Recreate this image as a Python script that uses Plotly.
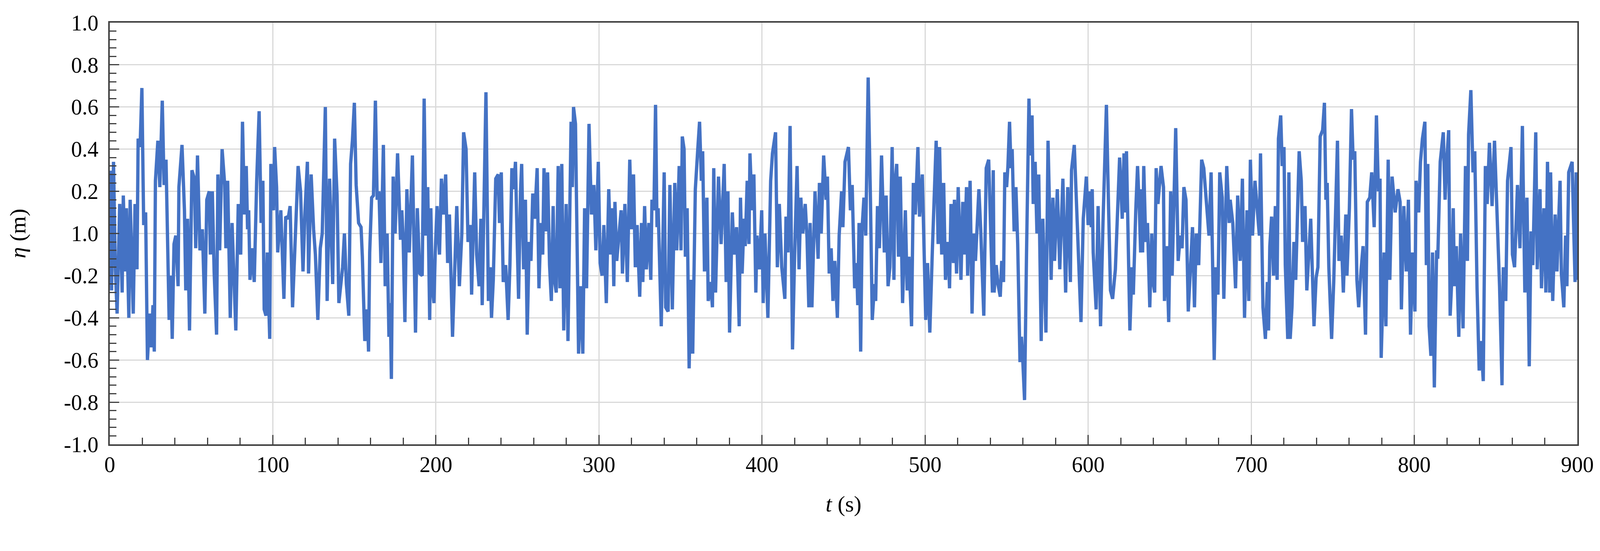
import plotly.graph_objects as go

# wave record (s, m)
t = [
    0.0, 0.4, 1.1, 2.3, 3.4, 4.5, 6.1, 7.6, 8.3, 9.5, 10.2, 11.7, 12.5, 14.4, 15.5, 16.7,
    17.4, 18.6, 19.7, 20.8, 22.0, 23.1, 24.6, 25.4, 26.5, 27.3, 28.0, 29.5, 30.7, 32.2,
    33.3, 34.5, 36.4, 37.5, 38.3, 39.4, 40.5, 41.9, 42.4, 44.3, 45.8, 46.6, 47.7, 48.9,
    50.4, 51.9, 52.7, 53.8, 55.3, 56.8, 58.3, 59.5, 61.0, 61.7, 62.9, 64.0, 65.5, 66.3,
    67.4, 68.9, 70.5, 71.2, 72.3, 73.9, 75.0, 76.1, 77.3, 78.8, 80.3, 81.4, 82.6, 83.7,
    84.5, 85.2, 86.0,
    87.1, 88.6, 90.1, 91.6, 92.8, 93.9, 94.7, 95.8, 96.6, 98.1, 98.8, 100.4, 101.1, 102.3,
    103.0, 104.9, 106.8, 107.9, 109.4, 110.6, 112.1, 113.2, 115.5, 117.0, 118.5, 119.7,
    121.2, 121.9, 123.5, 125.0, 126.1, 127.6, 129.1, 130.3, 132.2, 133.3, 134.8, 136.7,
    137.9, 139.4, 140.5, 142.8, 143.9, 145.1, 146.6, 147.7, 148.8, 150.0, 151.1, 152.6,
    154.1, 154.9, 156.4, 157.9, 158.7, 159.4, 160.6, 161.7, 162.9, 164.0, 165.1, 166.3,
    167.8, 168.9, 170.1, 171.2, 172.0, 172.7, 173.8, 175.0, 176.5,
    178.3, 179.1, 179.9, 181.0, 182.2, 183.7, 185.6, 186.3, 187.5, 188.6, 190.1, 191.6,
    192.8, 193.9, 195.0, 196.2, 196.9, 197.7, 198.8, 199.6, 200.7, 202.2, 203.4, 204.5,
    206.0, 207.2, 208.3, 210.2, 211.7, 212.8, 214.4, 215.9, 217.0, 218.5, 219.7, 221.2,
    221.9, 223.8, 225.0, 226.5, 227.6, 228.4, 230.7, 232.2, 233.3, 234.1, 235.2, 236.7,
    238.2, 239.0, 240.1, 241.3, 242.8, 244.3, 245.4, 246.6, 247.7, 248.8, 249.6, 250.7,
    251.9, 252.6, 253.8, 254.9, 256.0, 257.2, 258.3, 259.4, 260.6, 262.1, 263.2, 264.4,
    265.5, 266.3, 267.4, 268.5,
    269.7, 270.8, 271.9, 272.7, 273.8, 275.0, 276.1, 277.2, 278.4, 279.9, 281.0, 282.2,
    282.9, 283.7, 284.4, 285.6, 287.5, 288.6, 290.1, 291.2, 292.4, 293.9, 295.4, 296.9,
    298.1, 299.6, 300.7, 301.9, 303.0, 304.5, 306.0, 307.2, 308.3, 309.1, 309.8, 310.9,
    312.1, 313.6, 314.4, 315.9, 317.4, 318.9, 320.0, 321.2, 322.3, 323.4, 325.0, 326.1,
    326.9, 328.0, 329.1, 330.6, 331.8, 332.5, 333.7, 334.7, 335.6, 336.3, 338.2, 340.0,
    340.9, 342.4, 343.5, 345.0, 346.5, 347.7, 349.2, 350.3, 351.1, 352.2, 353.0, 354.1,
    355.3, 356.4, 357.5, 359.1,
    360.6, 361.7, 362.8, 363.6, 364.7, 366.2, 367.0, 368.5, 369.6, 370.4, 371.5, 373.3,
    374.9, 376.8, 378.0, 379.1, 380.1, 381.8, 382.9, 384.4, 386.0, 386.8, 387.8, 389.0,
    389.7, 390.9, 392.0, 392.6, 393.9, 395.0, 396.2, 396.9, 398.4, 399.8, 400.7, 401.8,
    403.6, 405.3, 406.4, 408.3, 409.4, 410.6, 412.1, 414.0, 414.7, 415.9, 417.2, 418.7,
    420.0, 421.5, 422.7, 423.8, 425.0, 426.5, 427.6, 428.7, 429.5, 430.6, 432.5, 434.4,
    435.2, 436.3, 437.8, 439.3, 440.1, 441.2, 442.4, 443.5, 444.6, 446.2, 447.3, 448.8,
    449.6, 450.9,
    453.0, 454.2, 455.3, 456.8, 458.0, 458.7, 459.5, 460.5, 461.4, 462.5, 463.6, 465.1,
    466.5, 467.6, 469.0, 469.7, 470.8, 472.0, 473.3, 475.0, 476.1, 477.3, 478.4, 479.8,
    480.9, 481.4, 482.6, 483.7, 484.8, 486.2, 487.9, 489.0, 490.1, 491.7, 492.8, 494.0,
    495.6, 496.6, 498.3, 499.2, 500.4, 501.5, 502.9, 504.5, 506.8, 508.0, 508.9, 510.2,
    511.4, 512.5, 514.0, 515.0, 515.9, 517.4, 518.0, 519.3, 520.3, 522.0, 523.1, 524.2,
    525.4, 526.1, 527.6, 528.8, 529.9, 530.9, 533.0, 534.1, 536.0, 537.5, 539.0, 540.1,
    541.3,
    541.8, 542.3, 543.6, 544.7, 546.1, 547.0, 548.1, 548.9, 550.0, 550.8, 551.8, 552.7,
    553.4, 554.6, 555.7, 556.8, 558.2, 559.1, 559.9, 561.0, 562.2, 563.7, 564.4, 565.6,
    566.3, 567.5, 568.6, 569.7, 571.2, 572.2, 574.1, 575.4, 577.3, 578.4, 579.4, 581.1,
    582.6, 584.5, 586.2, 587.5, 589.1, 589.8, 591.5, 593.2, 594.4, 595.6, 597.0, 598.9,
    600.0, 601.2, 601.9, 602.5, 603.1, 604.9, 606.1, 607.6, 609.1, 611.2, 612.5, 613.7,
    615.0, 616.7, 619.3, 620.9, 622.0, 622.8, 623.5, 624.3, 625.6, 626.9, 627.7, 629.2,
    630.3, 631.5, 632.2,
    632.9, 633.4, 634.1, 635.3, 636.4, 637.8, 639.0, 639.8, 640.8, 641.7, 642.8, 644.7,
    646.2, 646.8, 648.1, 649.4, 650.6, 651.5, 653.7, 655.2, 656.5, 657.6, 658.7, 660.0,
    661.4, 662.5, 664.0, 665.2, 666.3, 667.8, 669.6, 670.9, 672.4, 674.1, 675.4, 677.3,
    678.4, 679.6, 680.7, 682.2, 683.2, 685.0, 686.5, 687.1, 688.7, 690.4, 691.7, 693.2,
    694.6, 695.9, 697.4, 698.5, 699.5, 700.8, 702.3, 705.0, 705.7, 707.2, 708.7, 709.9,
    710.6, 711.4, 712.5, 713.7, 714.8, 715.9, 716.7, 718.1, 719.0, 720.1, 720.9, 722.4,
    723.1,
    723.9, 725.0, 726.2, 727.3, 728.0, 729.4, 730.7, 731.5, 733.0, 734.1, 736.5, 738.5,
    739.8, 740.9, 742.3, 743.8, 744.9, 745.8, 746.6, 747.6, 749.3, 750.6, 752.9, 753.8,
    755.2, 756.5, 758.0, 758.7, 760.2, 761.5, 762.5, 763.5, 764.8, 765.9, 767.4, 768.6,
    770.1, 771.2, 772.7, 773.9, 775.4, 776.8, 778.0, 779.0, 779.7, 781.5, 782.6, 784.0,
    785.0, 786.4, 788.3, 790.0, 791.3, 792.1, 793.6, 795.1, 796.4, 797.7, 798.9, 800.4,
    801.1, 802.7, 803.8, 805.0, 806.5, 807.4, 808.3, 809.1, 810.2, 811.2, 812.3, 813.7,
    814.4,
    815.2, 815.9, 817.8, 818.9, 819.7, 821.1, 822.0, 823.1, 823.9, 824.6, 825.8, 827.3,
    828.4, 829.9, 831.4, 832.6, 833.3, 834.7, 836.0, 837.1, 838.5, 839.8, 840.9, 842.3,
    843.6, 844.7, 846.1, 847.7, 849.2, 850.8, 852.3, 853.8, 854.6, 856.1, 857.2, 859.3,
    860.2, 861.5, 863.3, 864.8, 866.3, 867.8, 869.1, 870.5, 871.6, 872.7, 874.5, 875.4,
    877.1, 878.0, 879.5, 880.7, 881.7, 883.0, 883.6, 884.9, 886.4, 887.5, 888.5, 889.4,
    890.2, 891.7, 892.8, 893.6, 894.7, 896.8, 897.7, 898.6, 899.3, 900.0,
]

eta = [
    0.29, 0.29, -0.27, 0.34, -0.16, -0.38, 0.14, -0.28, 0.18, -0.18, 0.12, -0.40, 0.16, -0.38, 0.14, -0.17,
    0.45, 0.41, 0.69, 0.04, 0.10, -0.60, -0.38, -0.54, -0.34, -0.56, 0.25, 0.44, 0.22, 0.63,
    0.23, 0.35, -0.41, -0.20, -0.50, -0.05, -0.01, -0.25, 0.22, 0.42, 0.11, -0.27, 0.07, -0.46,
    0.30, 0.26, -0.07, 0.37, -0.08, 0.02, -0.38, 0.16, 0.20, -0.10, 0.20, -0.18, -0.48, 0.28,
    -0.08, 0.40, 0.23, -0.07, 0.25, -0.40, 0.05, -0.26, -0.46, 0.14, -0.10, 0.53, 0.09, 0.32,
    0.02, 0.11, -0.22,
    -0.07, -0.23, 0.25, 0.58, 0.05, 0.25, -0.36, -0.39, -0.09, -0.50, 0.33, 0.11, 0.41, 0.22,
    -0.09, 0.11, -0.31, 0.08, 0.07, 0.13, -0.35, -0.15, 0.32, 0.20, -0.18, 0.10,
    0.34, -0.19, 0.28, 0.02, -0.10, -0.41, -0.07, 0.00, 0.60, -0.32, 0.26, -0.24,
    0.45, 0.18, -0.33, -0.16, 0.00, -0.24, -0.39, 0.33, 0.44, 0.62, 0.23, 0.05,
    0.03, -0.11, -0.51, -0.36, -0.56, -0.09, 0.17, 0.18, 0.63, 0.16, 0.20, -0.14,
    0.42, -0.25, 0.00, -0.49, -0.33, -0.69, 0.27, 0.00, 0.38,
    -0.03, 0.11, -0.02, -0.42, 0.21, -0.09, 0.37, 0.02, -0.47, 0.12, -0.19, -0.20,
    0.64, -0.01, 0.22, -0.41, 0.12, -0.25, -0.33, -0.09, 0.13, -0.10, 0.26, 0.09,
    0.28, -0.14, 0.09, -0.49, -0.19, 0.13, -0.25, 0.00, 0.48, 0.40, -0.04, 0.04,
    -0.29, 0.29, -0.10, -0.25, 0.07, -0.34, 0.67, -0.32, -0.16, -0.40, -0.22, 0.26,
    0.28, 0.05, 0.29, -0.23, -0.15, -0.41, -0.15, 0.31, 0.21, 0.34, 0.05, -0.31,
    0.20, 0.33, -0.17, 0.16, -0.48, -0.04, -0.13, 0.19, 0.07, 0.31, -0.26, 0.05,
    -0.10, 0.31, 0.01, 0.29,
    -0.15, -0.32, 0.13, -0.22, -0.28, 0.32, -0.26, 0.33, -0.46, 0.14, -0.51, 0.22,
    0.53, 0.22, 0.60, 0.52, -0.57, -0.25, -0.57, 0.12, -0.26, 0.52, 0.09, 0.23,
    -0.08, 0.34, -0.14, -0.20, 0.04, -0.33, 0.21, -0.10, 0.12, -0.25, 0.15, -0.13,
    -0.01, 0.11, -0.19, 0.14, -0.23, 0.35, 0.02, 0.28, -0.16, 0.04, -0.30, 0.05,
    -0.23, 0.13, -0.17, 0.05, -0.22, 0.16, 0.11, 0.61, 0.03, 0.12, -0.44, 0.29,
    -0.35, -0.37, 0.23, -0.36, 0.24, -0.08, 0.32, -0.08, 0.46, 0.40, -0.11, 0.12,
    -0.64, -0.22, -0.57, 0.21,
    0.40, 0.53, 0.25, 0.39, -0.18, 0.17, -0.32, -0.23, -0.35, 0.31, -0.28, 0.27,
    -0.05, 0.33, -0.23, 0.20, -0.47, 0.10, -0.10, 0.03, -0.44, 0.17, -0.19, 0.07,
    -0.06, 0.25, -0.05, 0.38, 0.11, 0.28, -0.28, -0.01, -0.17, 0.11, -0.33, 0.00,
    -0.40, 0.25, 0.38, 0.48, -0.16, 0.14, -0.16, -0.31, 0.08, -0.09, 0.51, -0.55,
    -0.10, 0.32, -0.17, 0.17, 0.00, 0.14, -0.02, -0.35, 0.05, -0.35, 0.20, -0.12,
    0.24, 0.00, 0.37, 0.16, 0.27, -0.19, -0.07, -0.32, -0.13, -0.40, -0.01, 0.20,
    0.03, 0.34,
    0.41, 0.11, 0.23, -0.26, -0.14, -0.34, 0.05, -0.56, 0.03, 0.17, -0.01, 0.74,
    0.16, -0.41, -0.24, -0.32, 0.13, -0.07, 0.37, -0.09, 0.18, -0.25, -0.16, 0.41,
    -0.22, 0.22, 0.33, -0.11, 0.27, -0.33, 0.11, -0.27, -0.11, -0.44, 0.24, 0.09,
    0.41, 0.08, 0.28, -0.06, -0.41, -0.14, -0.47, -0.07, 0.44, -0.05, 0.41, -0.10,
    0.24, -0.22, -0.04, -0.26, 0.14, -0.14, 0.16, -0.19, 0.22, -0.22, 0.15, -0.10,
    0.22, -0.20, 0.25, -0.38, 0.00, -0.13, 0.21, 0.02, -0.39, 0.31, 0.35, 0.05,
    -0.28,
    0.30, -0.28, -0.15, -0.24, -0.30, -0.13, -0.23, 0.29, 0.22, 0.32, 0.53, 0.31,
    0.40, 0.01, 0.22, -0.05, -0.61, -0.49, -0.60, -0.79, -0.10, 0.64, 0.37, 0.56,
    0.14, 0.34, 0.00, 0.28, -0.51, 0.07, -0.47, 0.44, -0.22, 0.17, -0.13, 0.21,
    -0.17, 0.26, -0.28, 0.22, -0.23, 0.30, 0.42, 0.03, -0.25, -0.42, 0.07, 0.27,
    0.04, 0.20, 0.03, 0.21, -0.09, -0.36, 0.13, -0.44, 0.05, 0.61, 0.13, -0.27,
    -0.31, -0.17, 0.36, 0.07, 0.38, 0.10, 0.39, -0.02, -0.46, -0.16, -0.29, 0.11,
    0.32, 0.09, -0.09,
    0.21, -0.09, 0.32, -0.04, 0.05, -0.35, 0.00, -0.23, -0.28, 0.31, 0.14, 0.32,
    0.22, -0.32, -0.06, -0.42, 0.20, -0.20, 0.50, -0.13, -0.01, -0.07, 0.22, 0.16,
    -0.37, -0.16, 0.03, -0.35, 0.00, -0.15, 0.35, 0.31, 0.14, -0.01, 0.29, -0.60,
    -0.16, -0.29, 0.29, 0.17, -0.31, 0.32, 0.05, 0.16, 0.05, -0.26, 0.18, -0.13,
    0.26, -0.40, 0.11, -0.32, 0.35, -0.01, 0.25, -0.01, 0.38, -0.35, -0.50, -0.23,
    -0.46, -0.06, 0.08, -0.20, 0.13, -0.22, 0.45, 0.56, 0.32, 0.41, -0.15, -0.50,
    0.29,
    -0.50, -0.35, -0.04, -0.22, -0.01, 0.39, 0.25, -0.04, 0.13, -0.27, 0.07, -0.44,
    -0.21, -0.16, 0.46, 0.49, 0.62, 0.16, 0.24, -0.16, -0.50, -0.23, 0.44, -0.13,
    -0.01, -0.28, 0.09, -0.20, 0.12, 0.59, 0.35, 0.39, -0.22, -0.35, -0.17, -0.06,
    -0.48, 0.15, 0.17, 0.29, 0.03, 0.56, 0.20, 0.26, -0.59, -0.09, -0.44, 0.35,
    -0.22, 0.27, 0.10, 0.21, 0.15, -0.36, 0.13, -0.18, 0.16, -0.48, -0.09, -0.37,
    0.25, 0.10, 0.34, 0.45, 0.53, -0.15, 0.33, -0.44, -0.58, -0.09, -0.73, -0.08,
    -0.12,
    0.24, 0.34, 0.48, 0.16, 0.32, 0.49, -0.39, -0.20, 0.12, -0.25, -0.06, -0.49,
    0.00, -0.45, 0.32, -0.13, 0.47, 0.68, 0.29, 0.39, -0.26, -0.65, -0.51, -0.70,
    0.32, 0.14, 0.43, 0.13, 0.44, 0.11, -0.25, -0.72, -0.16, -0.32, 0.25, 0.41,
    -0.10, -0.16, 0.23, -0.07, 0.51, -0.28, 0.17, -0.63, 0.01, -0.15, 0.48, -0.17,
    0.21, -0.26, 0.12, -0.28, 0.34, -0.28, 0.29, -0.32, 0.09, -0.18, 0.08, 0.25,
    -0.19, -0.35, -0.01, -0.25, 0.29, 0.34, 0.05, -0.23, 0.29, -0.22,
]

x_ticks = [0, 100, 200, 300, 400, 500, 600, 700, 800, 900]
y_ticks = [1.0, 0.8, 0.6, 0.4, 0.2, 0.0, -0.2, -0.4, -0.6, -0.8, -1.0]
y_ticktext = ["1.0", "0.8", "0.6", "0.4", "0.2", "1.0", "-0.2", "-0.4", "-0.6", "-0.8", "-1.0"]

font = "Liberation Serif"

fig = go.Figure()
fig.add_trace(go.Scatter(x=t, y=eta, mode="lines",
                         line=dict(color="#4472C4", width=8.5)))

axis_common = dict(showline=True, linecolor="#404040", linewidth=3.5, mirror=True,
                   ticks="inside", tickcolor="#404040", tickwidth=3, ticklen=24,
                   showgrid=True, gridcolor="#D9D9D9", gridwidth=3,
                   zeroline=False, tickfont=dict(family=font, size=56, color="black"))

fig.update_xaxes(range=[0, 900], tickvals=x_ticks, ticklabelstandoff=0,
                 minor=dict(dtick=20, ticks="inside", ticklen=17, tickwidth=3,
                            tickcolor="#404040", showgrid=False),
                 title=dict(text="<i>t</i> (s)", font=dict(family=font, size=58, color="black"),
                            standoff=50),
                 **axis_common)
fig.update_yaxes(range=[-1, 1], tickvals=y_ticks, ticktext=y_ticktext, ticklabelstandoff=14,
                 minor=dict(dtick=0.04, ticks="inside", ticklen=17, tickwidth=3,
                            tickcolor="#404040", showgrid=False),
                 title=dict(text="<i>η</i> (m)", font=dict(family=font, size=58, color="black"),
                            standoff=80),
                 **axis_common)

fig.update_layout(autosize=True, showlegend=False,
                  plot_bgcolor="white", paper_bgcolor="white",
                  margin=dict(l=273, r=50, t=50, b=265, autoexpand=False))

# let the figure fill the browser window instead of a fixed pixel size
fig.write_html("out.html", default_width="calc(100vw - 16px)",
               default_height="calc(100vh - 16px)", config={"responsive": True})
